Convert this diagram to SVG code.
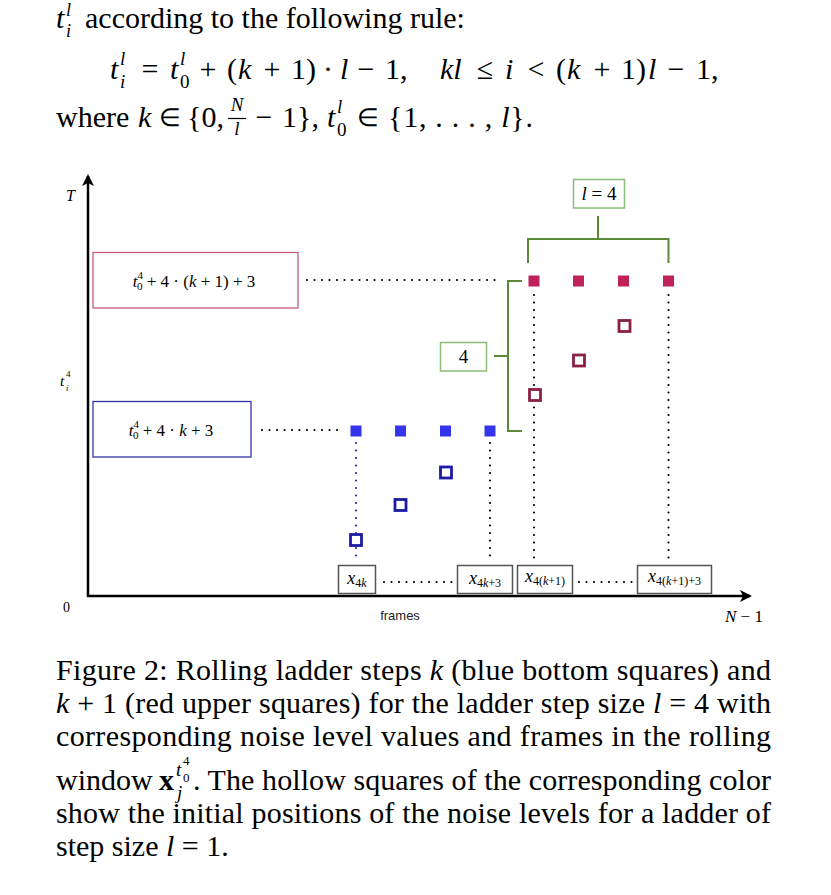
<svg xmlns="http://www.w3.org/2000/svg" width="831" height="895" viewBox="0 0 831 895">
<defs>
<style>
.s{font-family:"Liberation Serif","Times New Roman",serif;fill:#000}
.i{font-style:italic}
.m{text-anchor:middle}
.sans{font-family:"Liberation Sans",Arial,sans-serif;fill:#222}
.dot{fill:none;stroke:#000;stroke-width:2.2;stroke-linecap:round;stroke-dasharray:0 7.5}
.dotb{fill:none;stroke:#2a2aa0;stroke-width:2.2;stroke-linecap:round;stroke-dasharray:0 7.5}
.g{fill:none;stroke:#5a8a38;stroke-width:2}
.gb{fill:#fff;stroke:#8cbd7a;stroke-width:1.5}
.fb{fill:#fff;stroke:#555;stroke-width:1.5}
.rf{fill:#c0215a}
.bf{fill:#3535ee}
.rh{fill:#fff;stroke:#8a2045;stroke-width:2.8}
.bh{fill:#fff;stroke:#1b1ba3;stroke-width:2.8}
.ax{fill:none;stroke:#000;stroke-width:2.5}
.L{font-size:30px}
.S{font-size:19px}
</style>
<marker id="arr" viewBox="0 0 12 12" refX="10" refY="6" markerWidth="12" markerHeight="12" markerUnits="userSpaceOnUse" orient="auto">
<path d="M0,0 L12,6 L0,12 L3,6 Z" fill="#000"/>
</marker>
</defs>
<rect width="831" height="895" fill="#fff"/>

<g id="intro">
<text class="s L i" x="56" y="28">t</text>
<text class="s i" font-size="18" x="66" y="16">l</text>
<text class="s i" font-size="18" x="66" y="37">i</text>
<text class="s L" x="85" y="28">according to the following rule:</text>

<text class="s L i" x="110" y="79">t</text>
<text class="s S i" x="120" y="65">l</text>
<text class="s S i" x="120" y="88">i</text>
<text class="s L m" x="150" y="79">=</text>
<text class="s L i" x="170" y="79">t</text>
<text class="s S i" x="180" y="65">l</text>
<text class="s S" x="180" y="88">0</text>
<text class="s L m" x="208" y="79">+</text>
<text class="s L" x="227" y="79">(</text>
<text class="s L i" x="238" y="79">k</text>
<text class="s L m" x="272" y="79">+</text>
<text class="s L" x="291" y="79">1)</text>
<text class="s L m" x="328" y="79">·</text>
<text class="s L i" x="340" y="79">l</text>
<text class="s L m" x="366" y="79">−</text>
<text class="s L" x="385" y="79">1,</text>
<text class="s L i" x="440" y="79">kl</text>
<text class="s L m" x="485" y="79">≤</text>
<text class="s L i" x="505" y="79">i</text>
<text class="s L m" x="536" y="79">&lt;</text>
<text class="s L" x="556" y="79">(</text>
<text class="s L i" x="567" y="79">k</text>
<text class="s L m" x="602" y="79">+</text>
<text class="s L" x="621" y="79">1)</text>
<text class="s L i" x="648" y="79">l</text>
<text class="s L m" x="676" y="79">−</text>
<text class="s L" x="696" y="79">1,</text>

<text class="s L" x="56" y="127">where</text>
<text class="s L i" x="138" y="127">k</text>
<text class="s m" font-size="25" x="170" y="126">∈</text>
<text class="s L" x="187" y="127">{0,</text>
<text class="s S i m" x="237" y="111">N</text>
<line x1="228" y1="118.5" x2="246" y2="118.5" stroke="#000" stroke-width="1.2"/>
<text class="s S i m" x="237" y="135">l</text>
<text class="s L m" x="264" y="127">−</text>
<text class="s L" x="282" y="127">1},</text>
<text class="s L i" x="327" y="127">t</text>
<text class="s S i" x="337" y="113">l</text>
<text class="s S" x="337" y="136">0</text>
<text class="s m" font-size="25" x="368" y="126">∈</text>
<text class="s L" x="388" y="127" xml:space="preserve" textLength="145" lengthAdjust="spacing">{1, . . . , <tspan class="i">l</tspan>}.</text>
</g>

<g id="axes">
<line class="ax" x1="88" y1="597" x2="88" y2="176" marker-end="url(#arr)"/>
<line class="ax" x1="87" y1="596" x2="750" y2="596" marker-end="url(#arr)"/>
<text class="s i" font-size="16" x="66" y="201">T</text>
<text class="s i" font-size="15" x="60" y="386">t</text>
<text class="s" font-size="9" x="66" y="377">4</text>
<text class="s i" font-size="9" x="66" y="391">i</text>
<text class="s" font-size="14" x="63" y="612">0</text>
<text class="sans" font-size="13" x="400" y="620" text-anchor="middle">frames</text>
<text class="s" font-size="17" xml:space="preserve" y="622"><tspan x="725" class="i">N</tspan><tspan> − 1</tspan></text>
</g>

<g id="connectors">
<line class="dot" x1="307" y1="280" x2="497" y2="280"/>
<line class="dot" x1="262" y1="430" x2="338" y2="430"/>
<line class="dotb" x1="356" y1="443" x2="356" y2="558"/>
<line class="dot" x1="490" y1="443" x2="490" y2="560"/>
<line class="dot" x1="534" y1="295" x2="534" y2="560"/>
<line class="dot" x1="668.5" y1="295" x2="668.5" y2="560"/>
<line class="dot" x1="384" y1="582" x2="452" y2="582"/>
<line class="dot" x1="579" y1="582" x2="632" y2="582"/>
<path class="g" d="M528,263 V239 H668.5 V263 M598,239 V216"/>
<path class="g" d="M522,281 H508 V431 H522 M494,356 H508"/>
</g>

<g id="box-upper">
<rect x="93" y="252.5" width="205" height="55.5" fill="#fff" stroke="#c85a78" stroke-width="1.3"/>
<text class="s" font-size="17" xml:space="preserve" x="194" y="287" text-anchor="middle"><tspan class="i">t</tspan><tspan font-size="11" dy="-8">4</tspan><tspan font-size="11" dx="-6" dy="11">0</tspan><tspan dy="-3"> + 4 · (</tspan><tspan class="i">k</tspan><tspan> + 1) + 3</tspan></text>
</g>
<g id="box-lower">
<rect x="93" y="401.5" width="158" height="55.5" fill="#fff" stroke="#3333aa" stroke-width="1.3"/>
<text class="s" font-size="17" xml:space="preserve" x="171" y="436" text-anchor="middle"><tspan class="i">t</tspan><tspan font-size="11" dy="-8">4</tspan><tspan font-size="11" dx="-6" dy="11">0</tspan><tspan dy="-3"> + 4 · </tspan><tspan class="i">k</tspan><tspan> + 3</tspan></text>
</g>
<g id="label-l4">
<rect class="gb" x="573.5" y="179.5" width="51" height="28.5"/>
<text class="s" font-size="19" xml:space="preserve" x="599" y="200" text-anchor="middle"><tspan class="i">l</tspan><tspan> = 4</tspan></text>
</g>
<g id="label-4">
<rect class="gb" x="440.5" y="342.5" width="46" height="28.5"/>
<text class="s" font-size="19" x="463.5" y="363" text-anchor="middle">4</text>
</g>

<g id="blue-squares">
<rect class="bf" x="350.5" y="425.5" width="11" height="11"/>
<rect class="bf" x="395" y="425.5" width="11" height="11"/>
<rect class="bf" x="440" y="425.5" width="11" height="11"/>
<rect class="bf" x="484.5" y="425.5" width="11" height="11"/>
<rect class="bh" x="350.5" y="534.5" width="11" height="11"/>
<rect class="bh" x="395" y="499.5" width="11" height="11"/>
<rect class="bh" x="440.5" y="467" width="11" height="11"/>
</g>
<g id="red-squares">
<rect class="rf" x="528.5" y="275.5" width="11" height="11"/>
<rect class="rf" x="573" y="275.5" width="11" height="11"/>
<rect class="rf" x="618" y="275.5" width="11" height="11"/>
<rect class="rf" x="663" y="275.5" width="11" height="11"/>
<rect class="rh" x="529.5" y="389.5" width="11" height="11"/>
<rect class="rh" x="573.5" y="355" width="11" height="11"/>
<rect class="rh" x="619" y="320.5" width="11" height="11"/>
</g>

<g id="frames">
<rect class="fb" x="338.5" y="565.5" width="37" height="28"/>
<text class="s" font-size="18" xml:space="preserve" x="357" y="584" text-anchor="middle"><tspan class="i">x</tspan><tspan font-size="12" dy="3">4</tspan><tspan class="i" font-size="12">k</tspan></text>
<rect class="fb" x="457.5" y="565.5" width="55" height="28"/>
<text class="s" font-size="18" xml:space="preserve" x="485" y="584" text-anchor="middle"><tspan class="i">x</tspan><tspan font-size="12" dy="3">4</tspan><tspan class="i" font-size="12">k</tspan><tspan font-size="12">+3</tspan></text>
<rect class="fb" x="517.5" y="565.5" width="55" height="28"/>
<text class="s" font-size="18" xml:space="preserve" x="545" y="582" text-anchor="middle"><tspan class="i">x</tspan><tspan font-size="12" dy="3">4(</tspan><tspan class="i" font-size="12">k</tspan><tspan font-size="12">+1)</tspan></text>
<rect class="fb" x="637.5" y="565.5" width="74" height="28"/>
<text class="s" font-size="18" xml:space="preserve" x="674.5" y="582" text-anchor="middle"><tspan class="i">x</tspan><tspan font-size="12" dy="3">4(</tspan><tspan class="i" font-size="12">k</tspan><tspan font-size="12">+1)+3</tspan></text>
</g>

<g id="caption">
<text class="s L" xml:space="preserve" x="56" y="680" textLength="715" lengthAdjust="spacing">Figure 2: Rolling ladder steps <tspan class="i">k</tspan> (blue bottom squares) and</text>
<text class="s L" xml:space="preserve" x="56" y="713" textLength="715" lengthAdjust="spacing"><tspan class="i">k</tspan> + 1 (red upper squares) for the ladder step size <tspan class="i">l</tspan> = 4 with</text>
<text class="s L" xml:space="preserve" x="56" y="746" textLength="715" lengthAdjust="spacing">corresponding noise level values and frames in the rolling</text>
<text class="s L" x="56" y="790">window</text>
<text class="s L" font-weight="bold" x="159" y="790">x</text>
<text class="s S i" x="176" y="776">t</text>
<text class="s" font-size="13" x="183" y="765">4</text>
<text class="s" font-size="13" x="183" y="782">0</text>
<text class="s S i" x="177" y="799">j</text>
<text class="s L" xml:space="preserve" x="193" y="790" textLength="578" lengthAdjust="spacing">. The hollow squares of the corresponding color</text>
<text class="s L" xml:space="preserve" x="56" y="823" textLength="715" lengthAdjust="spacing">show the initial positions of the noise levels for a ladder of</text>
<text class="s L" xml:space="preserve" x="56" y="856">step size <tspan class="i">l</tspan> = 1.</text>
</g>
</svg>
